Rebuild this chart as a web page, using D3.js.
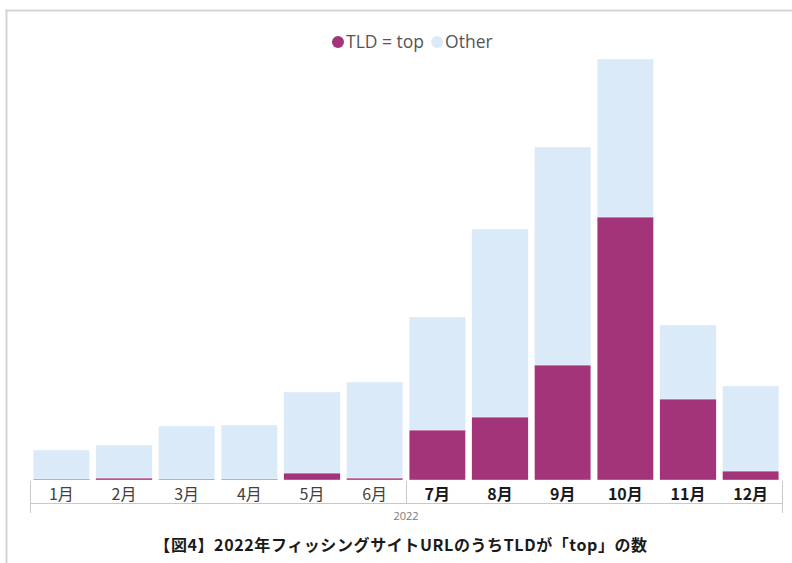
<!DOCTYPE html>
<html>
<head>
<meta charset="utf-8">
<script src="https://cdn.jsdelivr.net/npm/d3@7"></script>
<style>
  body { margin: 0; background: #fff; }
  svg { display: block; }
</style>
</head>
<body>
<div id="chart"></div>
<script>
// data (relative counts)
const months = ['1月', '2月', '3月', '4月', '5月', '6月', '7月', '8月', '9月', '10月', '11月', '12月'];
const topCounts = [1, 2, 1, 1, 7, 2, 50, 63, 115, 263, 81, 9];
const otherCounts = [29, 33, 53, 54, 81, 96, 113, 188, 218, 158, 74, 85];
const boldFrom = 6; // 7月 onward drawn bold
const seriesNames = ['TLD = top', 'Other'];
const seriesColors = ['#a43479', '#daeaf8'];
const yearLabel = '2022';
const titleText = '【図4】2022年フィッシングサイトURLのうちTLDが「top」の数';

const W = 792, H = 563;
const baseY = 480, topY = 59;

const svg = d3.select('#chart').append('svg')
    .attr('width', W)
    .attr('height', H);

// frame (top + left edge only)
svg.append('line').attr('x1', 5).attr('x2', W).attr('y1', 10.5).attr('y2', 10.5)
    .attr('stroke', '#d4d4d4').attr('stroke-width', 2);
svg.append('line').attr('x1', 6.5).attr('x2', 6.5).attr('y1', 10).attr('y2', H)
    .attr('stroke', '#d4d4d4').attr('stroke-width', 2);

// stacked data
const rows = months.map((m, i) => ({ month: m, top: topCounts[i], other: otherCounts[i] }));
const stack = d3.stack().keys(['top', 'other']);
const layers = stack(rows);

const x = d3.scaleBand()
    .domain(months)
    .range([30, 782])
    .paddingInner(0.1)
    .paddingOuter(0.05);

const y = d3.scaleLinear()
    .domain([0, d3.max(rows, d => d.top + d.other)])
    .range([baseY, topY]);

const color = d3.scaleOrdinal().domain(['top', 'other']).range(seriesColors);

svg.append('g').selectAll('g')
    .data(layers)
    .join('g')
    .attr('fill', d => color(d.key))
    .selectAll('rect')
    .data(d => d)
    .join('rect')
    .attr('x', d => x(d.data.month))
    .attr('width', x.bandwidth())
    .attr('y', d => y(d[1]))
    .attr('height', d => y(d[0]) - y(d[1]))
    .attr('stroke', '#fff')
    .attr('stroke-width', 0.4);

// category axis with group bracket
const axisG = svg.append('g');
const axisStroke = '#c8c8c8';
const x0 = 30, x1 = 782;
const midX = (x(months[boldFrom - 1]) + x.bandwidth() + x(months[boldFrom])) / 2;
axisG.append('line').attr('x1', x0).attr('x2', x1).attr('y1', 503.5).attr('y2', 503.5)
    .attr('stroke', axisStroke);
[[x0, 481, 513], [midX, 481, 503], [x1, 481, 513]].forEach(([lx, ya, yb]) => {
    axisG.append('line')
        .attr('x1', Math.round(lx) + 0.5).attr('x2', Math.round(lx) + 0.5)
        .attr('y1', ya).attr('y2', yb)
        .attr('stroke', axisStroke);
});

axisG.selectAll('text.month')
    .data(months)
    .join('text')
    .attr('class', 'month')
    .attr('x', d => x(d) + x.bandwidth() / 2)
    .attr('y', 500)
    .attr('text-anchor', 'middle')
    .attr('font-family', '"Noto Sans CJK JP", "Noto Sans", sans-serif')
    .attr('font-size', 16)
    .attr('font-weight', (d, i) => i >= boldFrom ? 700 : 400)
    .attr('fill', (d, i) => i >= boldFrom ? '#1a1a1a' : '#404040')
    .text(d => d);

axisG.append('text')
    .attr('x', (x0 + x1) / 2)
    .attr('y', 520)
    .attr('text-anchor', 'middle')
    .attr('font-family', '"Open Sans", "Noto Sans", sans-serif')
    .attr('font-size', 11)
    .attr('fill', '#7a7a7a')
    .text(yearLabel);

// legend
const legend = svg.append('g')
    .attr('font-family', '"Open Sans", "Noto Sans", sans-serif')
    .attr('font-size', 17.5)
    .attr('fill', '#555');
let lx = 332;
seriesNames.forEach((name, i) => {
    legend.append('circle')
        .attr('cx', lx + 6).attr('cy', 42).attr('r', 6)
        .attr('fill', seriesColors[i]);
    const t = legend.append('text')
        .attr('x', lx + 14).attr('y', 48)
        .text(name);
    lx += 14 + t.node().getComputedTextLength() + 7;
});

// title
svg.append('text')
    .attr('x', 401)
    .attr('y', 551)
    .attr('text-anchor', 'middle')
    .attr('font-family', '"Noto Sans CJK JP", sans-serif')
    .attr('font-size', 16)
    .attr('font-weight', 700)
    .attr('letter-spacing', 0.6)
    .attr('fill', '#1a1a1a')
    .text(titleText);
</script>
</body>
</html>
